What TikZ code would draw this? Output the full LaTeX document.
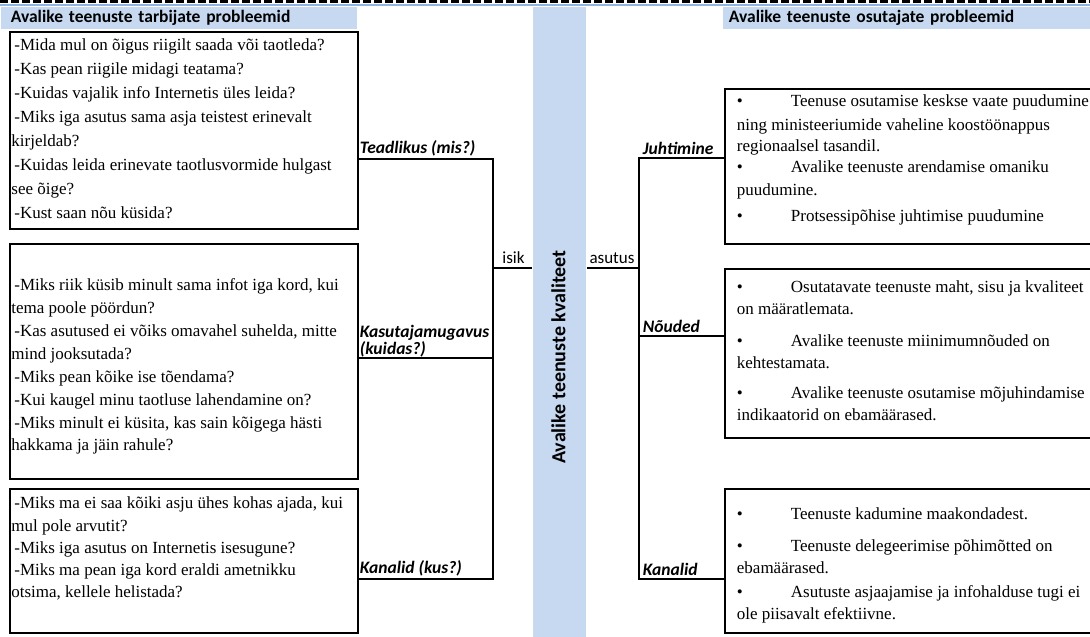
\documentclass[tikz,border=0pt]{standalone}
\usepackage{fontspec}
\setmainfont{Liberation Serif}
\newfontfamily\calibrifont{Carlito}
\usepackage{tikz}
\usetikzlibrary{calc, positioning}

\definecolor{barblue}{HTML}{C6D9F1}
\definecolor{ruleblue}{HTML}{8EB4E3}

\newcommand{\boxtext}[5]{\parbox[t][#2pt][t]{#1pt}{\fontsize{17}{#3}\selectfont\raggedright\vspace*{#4pt}\strut#5}}
\newcommand{\dq}{\hspace*{3pt}-}
\newcommand{\bp}{\makebox[54pt][l]{\textbullet}}

\begin{document}
\begin{tikzpicture}[x=1pt, y=-1pt, line width=1.8pt,
    problem/.style={draw, inner xsep=1.5pt, inner ysep=0pt, anchor=north west},
    issue/.style={draw, inner xsep=12pt, inner ysep=0pt, anchor=north west},
    heading/.style={fill=barblue, inner sep=0pt, anchor=north west, minimum height=22pt, align=left,
      font=\calibrifont\bfseries\fontsize{17.5}{18}\selectfont},
    aspect/.style={inner sep=0pt, anchor=west, align=left,
      font=\calibrifont\bfseries\itshape\fontsize{17.5}{16.5}\selectfont},
    party/.style={inner sep=0pt, font=\calibrifont\fontsize{17}{18}\selectfont}]

          \useasboundingbox [fill=white] (0, 0) rectangle (1090, 637);

          \draw [line width=2.5pt, dash pattern=on 8pt off 3pt] (0, 1.5) -- (1090, 1.5);
          \draw [ruleblue, line width=2pt] (0, 5) -- (1090, 5);

          \node [heading, text width=356pt] (userhead) at (0, 6) {\hspace*{10pt}Avalike teenuste tarbijate probleemid};
          \node [heading, text width=368pt] (providerhead) at (722, 6) {\hspace*{6pt}Avalike teenuste osutajate probleemid};
          \node [fill=barblue, inner sep=0pt, minimum width=53pt, minimum height=631pt, anchor=north west] (bar) at (532, 6) {};
          \node [rotate=90, inner sep=0pt, font=\calibrifont\bfseries\fontsize{20}{22}\selectfont] (quality) at (558.5, 357) {Avalike teenuste kvaliteet};

          \node [problem] (aware) at (9, 31) {\boxtext{345}{197}{24}{2.2}{%
            \dq Mida mul on õigus riigilt saada või taotleda?\\
            \dq Kas pean riigile midagi teatama?\\
            \dq Kuidas vajalik info Internetis üles leida?\\
            \dq Miks iga asutus sama asja teistest erinevalt\\
            kirjeldab?\\
            \dq Kuidas leida erinevate taotlusvormide hulgast\\
            see õige?\\
            \dq Kust saan nõu küsida?}};
          \node [problem] (usable) at (9, 243) {\boxtext{345}{235}{22.86}{31}{%
            \dq Miks riik küsib minult sama infot iga kord, kui\\
            tema poole pöördun?\\
            \dq Kas asutused ei võiks omavahel suhelda, mitte\\
            mind jooksutada?\\
            \dq Miks pean kõike ise tõendama?\\
            \dq Kui kaugel minu taotluse lahendamine on?\\
            \dq Miks minult ei küsita, kas sain kõigega hästi\\
            hakkama ja jäin rahule?}};
          \node [problem] (reach) at (9, 488) {\boxtext{345}{144}{22.25}{4.4}{%
            \dq Miks ma ei saa kõiki asju ühes kohas ajada, kui\\
            mul pole arvutit?\\
            \dq Miks iga asutus on Internetis isesugune?\\
            \dq Miks ma pean iga kord eraldi ametnikku\\
            otsima, kellele helistada?}};

          \node [issue] (lead) at (724, 88) {\boxtext{380}{155}{21}{3.3}{%
            \bp Teenuse osutamise keskse vaate puudumine\\[3pt]
            ning ministeeriumide vaheline koostöönappus\\
            regionaalsel tasandil.\\
            \bp Avalike teenuste arendamise omaniku\\[2pt]
            puudumine.\\[5pt]
            \bp Protsessipõhise juhtimise puudumine}};
          \node [issue] (req) at (724, 268) {\boxtext{380}{169}{22}{8.6}{%
            \bp Osutatavate teenuste maht, sisu ja kvaliteet\\
            on määratlemata.\\[10pt]
            \bp Avalike teenuste miinimumnõuded on\\
            kehtestamata.\\[8pt]
            \bp Avalike teenuste osutamise mõjuhindamise\\
            indikaatorid on ebamäärased.}};
          \node [issue] (chan) at (724, 488) {\boxtext{380}{144}{22}{15.6}{%
            \bp Teenuste kadumine maakondadest.\\[10pt]
            \bp Teenuste delegeerimise põhimõtted on\\
            ebamäärased.\\[2pt]
            \bp Asutuste asjaajamise ja infohalduse tugi ei\\
            ole piisavalt efektiivne.}};

          \node [aspect] (awarelbl) at (359, 148) {Teadlikus (mis?)};
          \node [aspect] (usablelbl) at (359, 341) {Kasutajamugavus\\(kuidas?)};
          \node [aspect] (reachlbl) at (359, 568) {Kanalid (kus?)};
          \node [aspect] (leadlbl) at (642, 148) {Juhtimine};
          \node [aspect] (reqlbl) at (642, 326) {Nõuded};
          \node [aspect] (chanlbl) at (642, 569) {Kanalid};
          \node [party] (person) at (513.5, 258) {isik};
          \node [party] (agency) at (612, 258) {asutus};

          \coordinate (lq1) at (493, 159);
          \coordinate (lq2) at (493, 358);
          \coordinate (lq3) at (493, 579);
          \coordinate (lhub) at (493, 268);
          \coordinate (rq1) at (639, 158);
          \coordinate (rq2) at (639, 336);
          \coordinate (rq3) at (639, 579);
          \coordinate (rhub) at (639, 268);

          \draw (aware.east |- lq1) -- (lq1) -- (lq3) -- (reach.east |- lq3);
          \draw (usable.east |- lq2) -- (lq2);
          \draw (lhub) -- (bar.west |- lhub);
          \draw (bar.east |- rhub) -- (rhub);
          \draw (lead.west |- rq1) -- (rq1) -- (rq3) -- (chan.west |- rq3);
          \draw (rq2) -- (req.west |- rq2);

      \end{tikzpicture}
\end{document}
